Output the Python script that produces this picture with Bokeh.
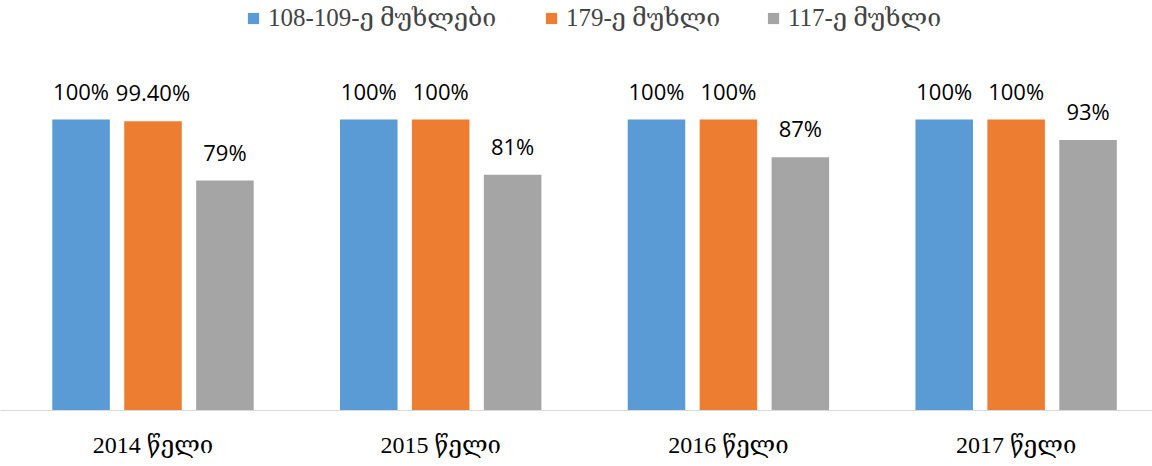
from bokeh.plotting import figure
from bokeh.models import ColumnDataSource, Range1d, FixedTicker, Legend, LegendItem
from bokeh.core.properties import value
from bokeh.embed import file_html
from bokeh.resources import INLINE

years = ["2014 წელი", "2015 წელი", "2016 წელი", "2017 წელი"]
series_names = ["108-109-ე მუხლები", "179-ე მუხლი", "117-ე მუხლი"]
s1_values = [100, 100, 100, 100]
s2_values = [99.4, 100, 100, 100]
s3_values = [79, 81, 87, 93]
s1_labels = ["100%", "100%", "100%", "100%"]
s2_labels = ["99.40%", "100%", "100%", "100%"]
s3_labels = ["79%", "81%", "87%", "93%"]
colors = ["#5B9BD5", "#ED7D31", "#A5A5A5"]

SERIF = "'Liberation Serif', 'DejaVu Serif', serif"
SANS = "Open Sans"

p = figure(width=1152, height=466, output_backend="svg", toolbar_location=None,
           x_range=Range1d(-0.530, 3.474), y_range=Range1d(0, 140.9),
           min_border_left=0, min_border_right=0, min_border_top=0, min_border_bottom=56)
p.outline_line_color = None
p.grid.grid_line_color = None
p.yaxis.visible = False
p.background_fill_color = "white"
p.border_fill_color = "white"

offsets = [-0.25, 0.0, 0.25]
all_vals = [s1_values, s2_values, s3_values]
all_labels = [s1_labels, s2_labels, s3_labels]
renderers = []
for k in range(3):
    src = ColumnDataSource(dict(
        x=[i + offsets[k] for i in range(len(years))],
        top=all_vals[k],
        lab=all_labels[k],
    ))
    r = p.vbar(x="x", top="top", bottom=0, width=0.2, source=src,
               fill_color=colors[k], line_color=None)
    renderers.append(r)
    p.text(x="x", y="top", text="lab", source=src, text_align="center",
           text_baseline="alphabetic", y_offset=-29, text_font=value(SANS),
           text_font_size="22px", text_color="#000000")

p.xaxis.ticker = FixedTicker(ticks=list(range(len(years))))
p.xaxis.major_label_overrides = {i: y for i, y in enumerate(years)}
p.xaxis.major_tick_line_color = None
p.xaxis.minor_tick_line_color = None
p.xaxis.axis_line_color = "#D9D9D9"
p.xaxis.axis_line_width = 1
p.xaxis.major_label_text_font = SERIF
p.xaxis.major_label_text_font_size = "24px"
p.xaxis.major_label_text_color = "#000000"
p.xaxis.major_label_standoff = 15

legend_x = [246, 544, 766]
for k in range(3):
    lg = Legend(items=[LegendItem(label=series_names[k], renderers=[renderers[k]])],
                orientation="horizontal", location=(legend_x[k], 378),
                glyph_width=14, glyph_height=14, label_standoff=8,
                label_text_font=SERIF, label_text_font_size="25px",
                border_line_color=None, background_fill_alpha=0,
                margin=0, padding=0)
    p.add_layout(lg)

open("out.html", "w").write(file_html(p, INLINE))
